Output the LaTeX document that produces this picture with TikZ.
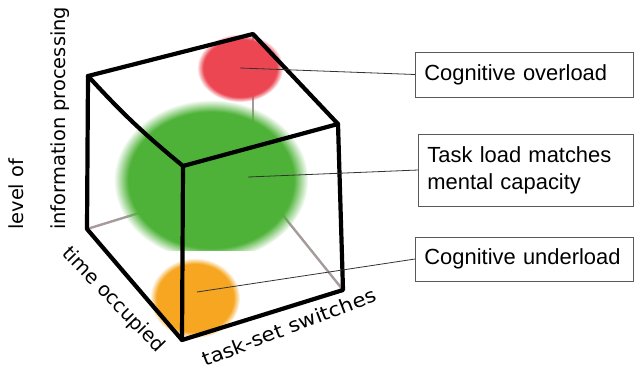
\documentclass[tikz,border=0pt]{standalone}
\usepackage{fontspec}
\setmainfont{Liberation Sans}
\newfontfamily\handfont{DejaVu Sans}
\usetikzlibrary{fadings}
\definecolor{ballred}{RGB}{236,70,82}
\definecolor{ballgreen}{RGB}{78,178,56}
\definecolor{ballorange}{RGB}{246,166,32}
\definecolor{hiddengrey}{RGB}{165,155,155}
\tikzset{
  edge/.style={line width=4.2bp, line cap=round, line join=round, black},
  hiddenedge/.style={line width=2.4bp, hiddengrey, line cap=round},
  leader/.style={line width=0.8bp, black!80},
  labelbox/.style={draw=black!65, line width=0.8bp, fill=white, anchor=west, align=left,
    inner xsep=9bp, font=\fontsize{22}{27}\selectfont},
  axislabel/.style={font=\handfont\fontsize{19.5}{23}\selectfont, inner sep=0pt},
  ball/.style={path fading=circle with fuzzy edge 15 percent}
}
\begin{document}
\begin{tikzpicture}[x=1bp,y=-1bp]
\useasboundingbox (0,0) rectangle (635,374);
% cube vertices
\coordinate (A) at (88,76);
\coordinate (B) at (253,34);
\coordinate (C) at (338,124);
\coordinate (D) at (183,166);
\coordinate (E) at (87,229);
\coordinate (F) at (182,340);
\coordinate (G) at (343,290);
\coordinate (H) at (253,178);
% hidden edges
\draw[hiddenedge] (E) -- (H) -- (G);
\draw[hiddenedge] (B) -- (H);
% balls
\fill[ballred, ball] (240,68) ellipse [x radius=43, y radius=34];
\begin{scope}
  \clip (0,0) rectangle (635,250);
  \fill[ballgreen, ball] (211,180) ellipse [x radius=97, y radius=80];
\end{scope}
\fill[ballorange, ball] (195,298) ellipse [x radius=45, y radius=40];
% visible edges
\draw[edge] (A) -- (B) -- (C) -- (D) to[bend left=4] (A);
\draw[edge] (A) -- (E) -- (F) -- (G) -- (C);
\draw[edge] (D) -- (F);
% ball centres
\coordinate (redc) at (240,68);
\coordinate (greenc) at (248,177);
\coordinate (orangec) at (197,292);
% label boxes
\node[labelbox, text width=200bp, minimum height=45bp] (over) at (415,74.5) {Cognitive overload};
\node[labelbox, text width=197bp, minimum height=72bp] (match) at (418,170) {Task load matches\\mental capacity};
\node[labelbox, text width=200bp, minimum height=44bp] (under) at (415,259) {Cognitive underload};
% leaders
\draw[leader] (redc) -- (over.west);
\draw[leader] (greenc) -- (match.west);
\draw[leader] (orangec) -- (under.west);
% axis labels
\node[axislabel, rotate=90, anchor=base west] (lvl) at (23,230) {level of};
\node[axislabel, rotate=90, anchor=base west] (info) at (65,230) {information processing};
\node[axislabel, rotate=-46] (time) at (113,300) {time occupied};
\node[axislabel, rotate=21, xscale=1.1] (task) at (289,327) {task-set switches};
\end{tikzpicture}
\end{document}
